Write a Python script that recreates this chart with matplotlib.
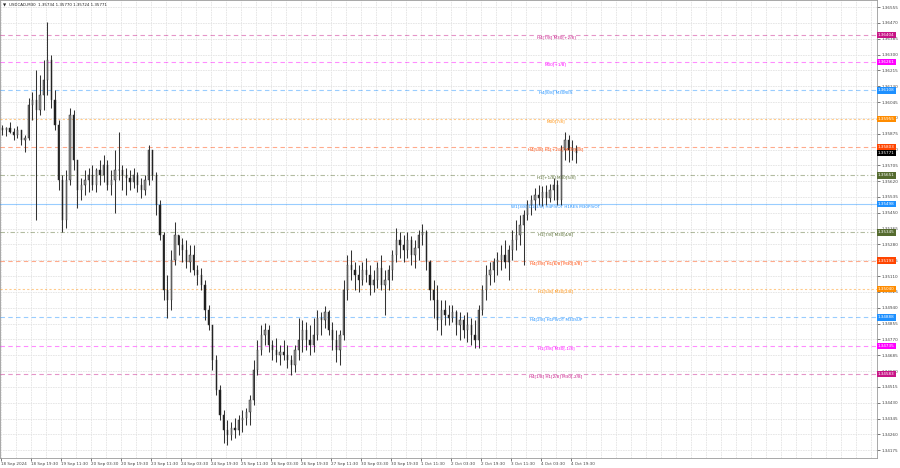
import numpy as np
import matplotlib.pyplot as plt

# USDCAD M30, aggregated to 2h bars
highs = [1.35921, 1.35911, 1.35937, 1.35905, 1.35916, 1.35895, 1.35868, 1.36066, 1.36099, 1.36217,
         1.36190, 1.36271, 1.36475, 1.36298, 1.36110, 1.35948, 1.35653, 1.35680, 1.36013, 1.36002,
         1.35733, 1.35637, 1.35680, 1.35690, 1.35707, 1.35690, 1.35733, 1.35760, 1.35733, 1.35680,
         1.35787, 1.35884, 1.35707, 1.35690, 1.35680, 1.35690, 1.35669, 1.35637, 1.35653, 1.35814,
         1.35787, 1.35669, 1.35519, 1.35347, 1.35116, 1.35250, 1.35400, 1.35331, 1.35314, 1.35304,
         1.35277, 1.35277, 1.35169, 1.35153, 1.35089, 1.34955, 1.34847, 1.34686, 1.34525, 1.34391,
         1.34337, 1.34326, 1.34348, 1.34364, 1.34391, 1.34401, 1.34471, 1.34659, 1.34767, 1.34847,
         1.34858, 1.34847, 1.34767, 1.34777, 1.34740, 1.34767, 1.34740, 1.34686, 1.34740, 1.34885,
         1.34874, 1.34863, 1.34847, 1.34885, 1.34928, 1.34917, 1.34949, 1.34928, 1.34863, 1.34820,
         1.34820, 1.35089, 1.35223, 1.35250, 1.35185, 1.35169, 1.35185, 1.35207, 1.35169, 1.35143,
         1.35185, 1.35223, 1.35143, 1.35169, 1.35250, 1.35368, 1.35347, 1.35331, 1.35347, 1.35325,
         1.35304, 1.35357, 1.35390, 1.35357, 1.35196, 1.35089, 1.35062, 1.34981, 1.34981, 1.34955,
         1.34955, 1.34928, 1.34917, 1.34901, 1.34917, 1.34885, 1.34874, 1.34955, 1.35062, 1.35169,
         1.35185, 1.35207, 1.35239, 1.35277, 1.35304, 1.35277, 1.35357, 1.35411, 1.35438, 1.35465,
         1.35519, 1.35545, 1.35583, 1.35599, 1.35594, 1.35599, 1.35605, 1.35637, 1.35626, 1.35814,
         1.35884, 1.35868, 1.35841, 1.35814]
lows = [1.35868, 1.35862, 1.35879, 1.35841, 1.35852, 1.35814, 1.35776, 1.35841, 1.35948, 1.35411,
        1.35975, 1.36002, 1.36083, 1.36013, 1.35895, 1.35572, 1.35347, 1.35368, 1.35599, 1.35680,
        1.35476, 1.35519, 1.35545, 1.35562, 1.35572, 1.35562, 1.35599, 1.35615, 1.35572, 1.35545,
        1.35449, 1.35626, 1.35572, 1.35545, 1.35572, 1.35583, 1.35562, 1.35529, 1.35545, 1.35599,
        1.35626, 1.35438, 1.35304, 1.34981, 1.34885, 1.34928, 1.35169, 1.35223, 1.35185, 1.35153,
        1.35132, 1.35116, 1.35062, 1.35035, 1.34874, 1.34820, 1.34605, 1.34471, 1.34337, 1.34213,
        1.34202, 1.34229, 1.34240, 1.34256, 1.34272, 1.34310, 1.34310, 1.34417, 1.34579, 1.34686,
        1.34740, 1.34702, 1.34659, 1.34648, 1.34632, 1.34659, 1.34616, 1.34579, 1.34595, 1.34659,
        1.34702, 1.34713, 1.34686, 1.34702, 1.34767, 1.34793, 1.34831, 1.34793, 1.34713, 1.34648,
        1.34632, 1.34767, 1.34981, 1.35089, 1.35035, 1.35024, 1.35062, 1.35078, 1.35008, 1.35024,
        1.35046, 1.35035, 1.34901, 1.35035, 1.35089, 1.35185, 1.35207, 1.35185, 1.35207, 1.35169,
        1.35153, 1.35196, 1.35277, 1.35143, 1.34981, 1.34885, 1.34820, 1.34793, 1.34847, 1.34847,
        1.34863, 1.34793, 1.34767, 1.34777, 1.34756, 1.34740, 1.34724, 1.34724, 1.34901, 1.34981,
        1.35062, 1.35078, 1.35116, 1.35143, 1.35153, 1.35089, 1.35196, 1.35250, 1.35277, 1.35169,
        1.35411, 1.35438, 1.35465, 1.35492, 1.35486, 1.35492, 1.35508, 1.35519, 1.35492, 1.35492,
        1.35733, 1.35723, 1.35733, 1.35717]
closes = [1.35895, 1.35905, 1.35884, 1.35868, 1.35895, 1.35841, 1.35852, 1.36029, 1.36056, 1.36002,
          1.36083, 1.36163, 1.36271, 1.36056, 1.35921, 1.35626, 1.35411, 1.35626, 1.35975, 1.35733,
          1.35572, 1.35599, 1.35626, 1.35653, 1.35599, 1.35680, 1.35653, 1.35707, 1.35599, 1.35626,
          1.35680, 1.35680, 1.35653, 1.35637, 1.35615, 1.35653, 1.35599, 1.35572, 1.35626, 1.35787,
          1.35653, 1.35492, 1.35331, 1.35035, 1.34981, 1.35196, 1.35331, 1.35277, 1.35250, 1.35185,
          1.35223, 1.35143, 1.35116, 1.35062, 1.34928, 1.34847, 1.34659, 1.34498, 1.34364, 1.34283,
          1.34256, 1.34294, 1.34283, 1.34337, 1.34348, 1.34380, 1.34444, 1.34605, 1.34713, 1.34793,
          1.34820, 1.34740, 1.34713, 1.34686, 1.34702, 1.34686, 1.34659, 1.34632, 1.34713, 1.34767,
          1.34820, 1.34767, 1.34740, 1.34793, 1.34885, 1.34874, 1.34917, 1.34820, 1.34767, 1.34713,
          1.34793, 1.35035, 1.35169, 1.35143, 1.35116, 1.35089, 1.35143, 1.35116, 1.35062, 1.35089,
          1.35153, 1.35062, 1.35089, 1.35143, 1.35223, 1.35304, 1.35277, 1.35250, 1.35304, 1.35223,
          1.35261, 1.35331, 1.35347, 1.35185, 1.35035, 1.34981, 1.34874, 1.34928, 1.34901, 1.34885,
          1.34917, 1.34847, 1.34874, 1.34820, 1.34847, 1.34793, 1.34767, 1.34928, 1.35035, 1.35116,
          1.35143, 1.35185, 1.35196, 1.35223, 1.35185, 1.35250, 1.35304, 1.35331, 1.35384, 1.35438,
          1.35492, 1.35519, 1.35545, 1.35529, 1.35562, 1.35529, 1.35572, 1.35599, 1.35519, 1.35787,
          1.35841, 1.35787, 1.35798, 1.35771]
first_open = 1.35905

level_prices = [1.36404, 1.36261, 1.36108, 1.35955, 1.35803, 1.35651, 1.35498,
                1.35345, 1.35193, 1.35040, 1.34888, 1.34735, 1.34583]
level_names = ["H4[7/8] M30[+2/8]", "M30[+1/8]", "H4[8/8] M30RES", "M30[7/8]",
               "H4[5/8] H1[+2/8] M30[6/8]", "H1[+1/8] M30[5/8]",
               "W1[3/8] D1[3/8] H4PIVOT H1RES M30PIVOT", "H1[7/8] M30[4/8]",
               "H4[3/8] H1[6/8] M30[3/8]", "H1[5/8] M30[2/8]", "H4[2/8] H1PIVOT M30SUP",
               "H1[3/8] M30[-1/8]", "H4[1/8] H1[2/8] M30[-2/8]"]
level_colors = ["#c71585", "#ff00ff", "#1e90ff", "#ff8c00", "#ff4500", "#556b2f", "#1e90ff",
                "#556b2f", "#ff4500", "#ff8c00", "#1e90ff", "#ff00ff", "#c71585"]
level_dash = [(0, (4, 3)), (0, (4, 3)), (0, (4, 3)), (0, (2, 2)), (0, (4, 3)), (0, (4, 2, 1, 2)), "-",
              (0, (4, 2, 1, 2)), (0, (4, 3)), (0, (2, 2)), (0, (4, 3)), (0, (4, 3)), (0, (4, 3))]

price_ticks = [1.36555, 1.36470, 1.36385, 1.36300, 1.36215, 1.36130, 1.36045, 1.35960, 1.35875,
               1.35790, 1.35705, 1.35620, 1.35535, 1.35450, 1.35365, 1.35280, 1.35195, 1.35110,
               1.35025, 1.34940, 1.34855, 1.34770, 1.34685, 1.34600, 1.34515, 1.34430, 1.34345,
               1.34260, 1.34175]
time_labels = ["18 Sep 2024", "18 Sep 19:30", "19 Sep 11:30", "20 Sep 03:30", "20 Sep 19:30",
               "23 Sep 11:30", "24 Sep 03:30", "24 Sep 19:30", "25 Sep 11:30", "26 Sep 03:30",
               "26 Sep 19:30", "27 Sep 11:30", "30 Sep 03:30", "30 Sep 19:30", "1 Oct 11:30",
               "2 Oct 03:30", "2 Oct 19:30", "3 Oct 11:30", "4 Oct 03:30", "4 Oct 19:30"]
last_price = 1.35771

fig = plt.figure(figsize=(9, 4.68), dpi=100)
ax = fig.add_axes([0.0, 10 / 468, 877 / 900, 458 / 468])

# x in M30 bars, one drawn bar = 4 M30 bars
n = len(closes)
xs = np.arange(n) * 4 + 1.5
opens = [first_open] + closes[:-1]

ax.vlines(xs, lows, highs, color="#333333", lw=0.75, zorder=4)
for x, o, c in zip(xs, opens, closes):
    lo, hi = min(o, c), max(o, c)
    up = c >= o
    ax.add_patch(plt.Rectangle((x - 0.7, lo), 1.4, max(hi - lo, 0.000015),
                               facecolor="#8c8c8c" if up else "#1a1a1a",
                               edgecolor="#303030", lw=0.35, zorder=5))

# murrey levels
for p, name, col, ls in zip(level_prices, level_names, level_colors, level_dash):
    ax.axhline(p, color=col, lw=0.8, ls=ls, alpha=0.45, zorder=3)
    ax.text(592, p - 0.00002, name, color=col, fontsize=3.0, ha="center", va="top", zorder=6)
    ax.text(1.001, p, "%.5f" % p, transform=ax.get_yaxis_transform(), color="white",
            fontsize=3.0, ha="left", va="center", clip_on=False, zorder=7,
            bbox=dict(boxstyle="square,pad=0.3", fc=col, ec="none"))

ax.text(1.001, last_price, "%.5f" % last_price, transform=ax.get_yaxis_transform(),
        color="white", fontsize=3.0, ha="left", va="center", clip_on=False, zorder=8,
        bbox=dict(boxstyle="square,pad=0.3", fc="black", ec="none"))

ax.set_xlim(-1.1, 934.4)
ax.set_ylim(1.34133, 1.36593)

ax.yaxis.tick_right()
ax.set_yticks(price_ticks)
ax.set_yticklabels(["%.5f" % t for t in price_ticks])
ax.set_xticks(np.arange(len(time_labels)) * 32)
ax.set_xticklabels(time_labels, ha="left")
ax.set_xticks(np.arange(0, 934, 16), minor=True)
ax.tick_params(axis="both", labelsize=3.0, colors="#444444", length=2, width=0.5, pad=1.2)
ax.tick_params(axis="x", which="minor", length=0)

ax.grid(True, which="both", color="#e3e3e3", lw=0.6, ls=(0, (2, 1)))
ax.set_axisbelow(True)
for s in ax.spines.values():
    s.set_color("#9a9a9a")
    s.set_linewidth(0.6)

ax.text(0.003, 0.993, "\u25bc", transform=ax.transAxes, fontsize=3.0, ha="left", va="top",
        color="#222222", zorder=9)
ax.text(0.010, 0.993, "USDCAD,M30  1.35734 1.35770 1.35724 1.35771",
        transform=ax.transAxes, fontsize=2.9, ha="left", va="top", color="#222222", zorder=9)

fig.savefig("out.png", dpi=100, facecolor="white")
